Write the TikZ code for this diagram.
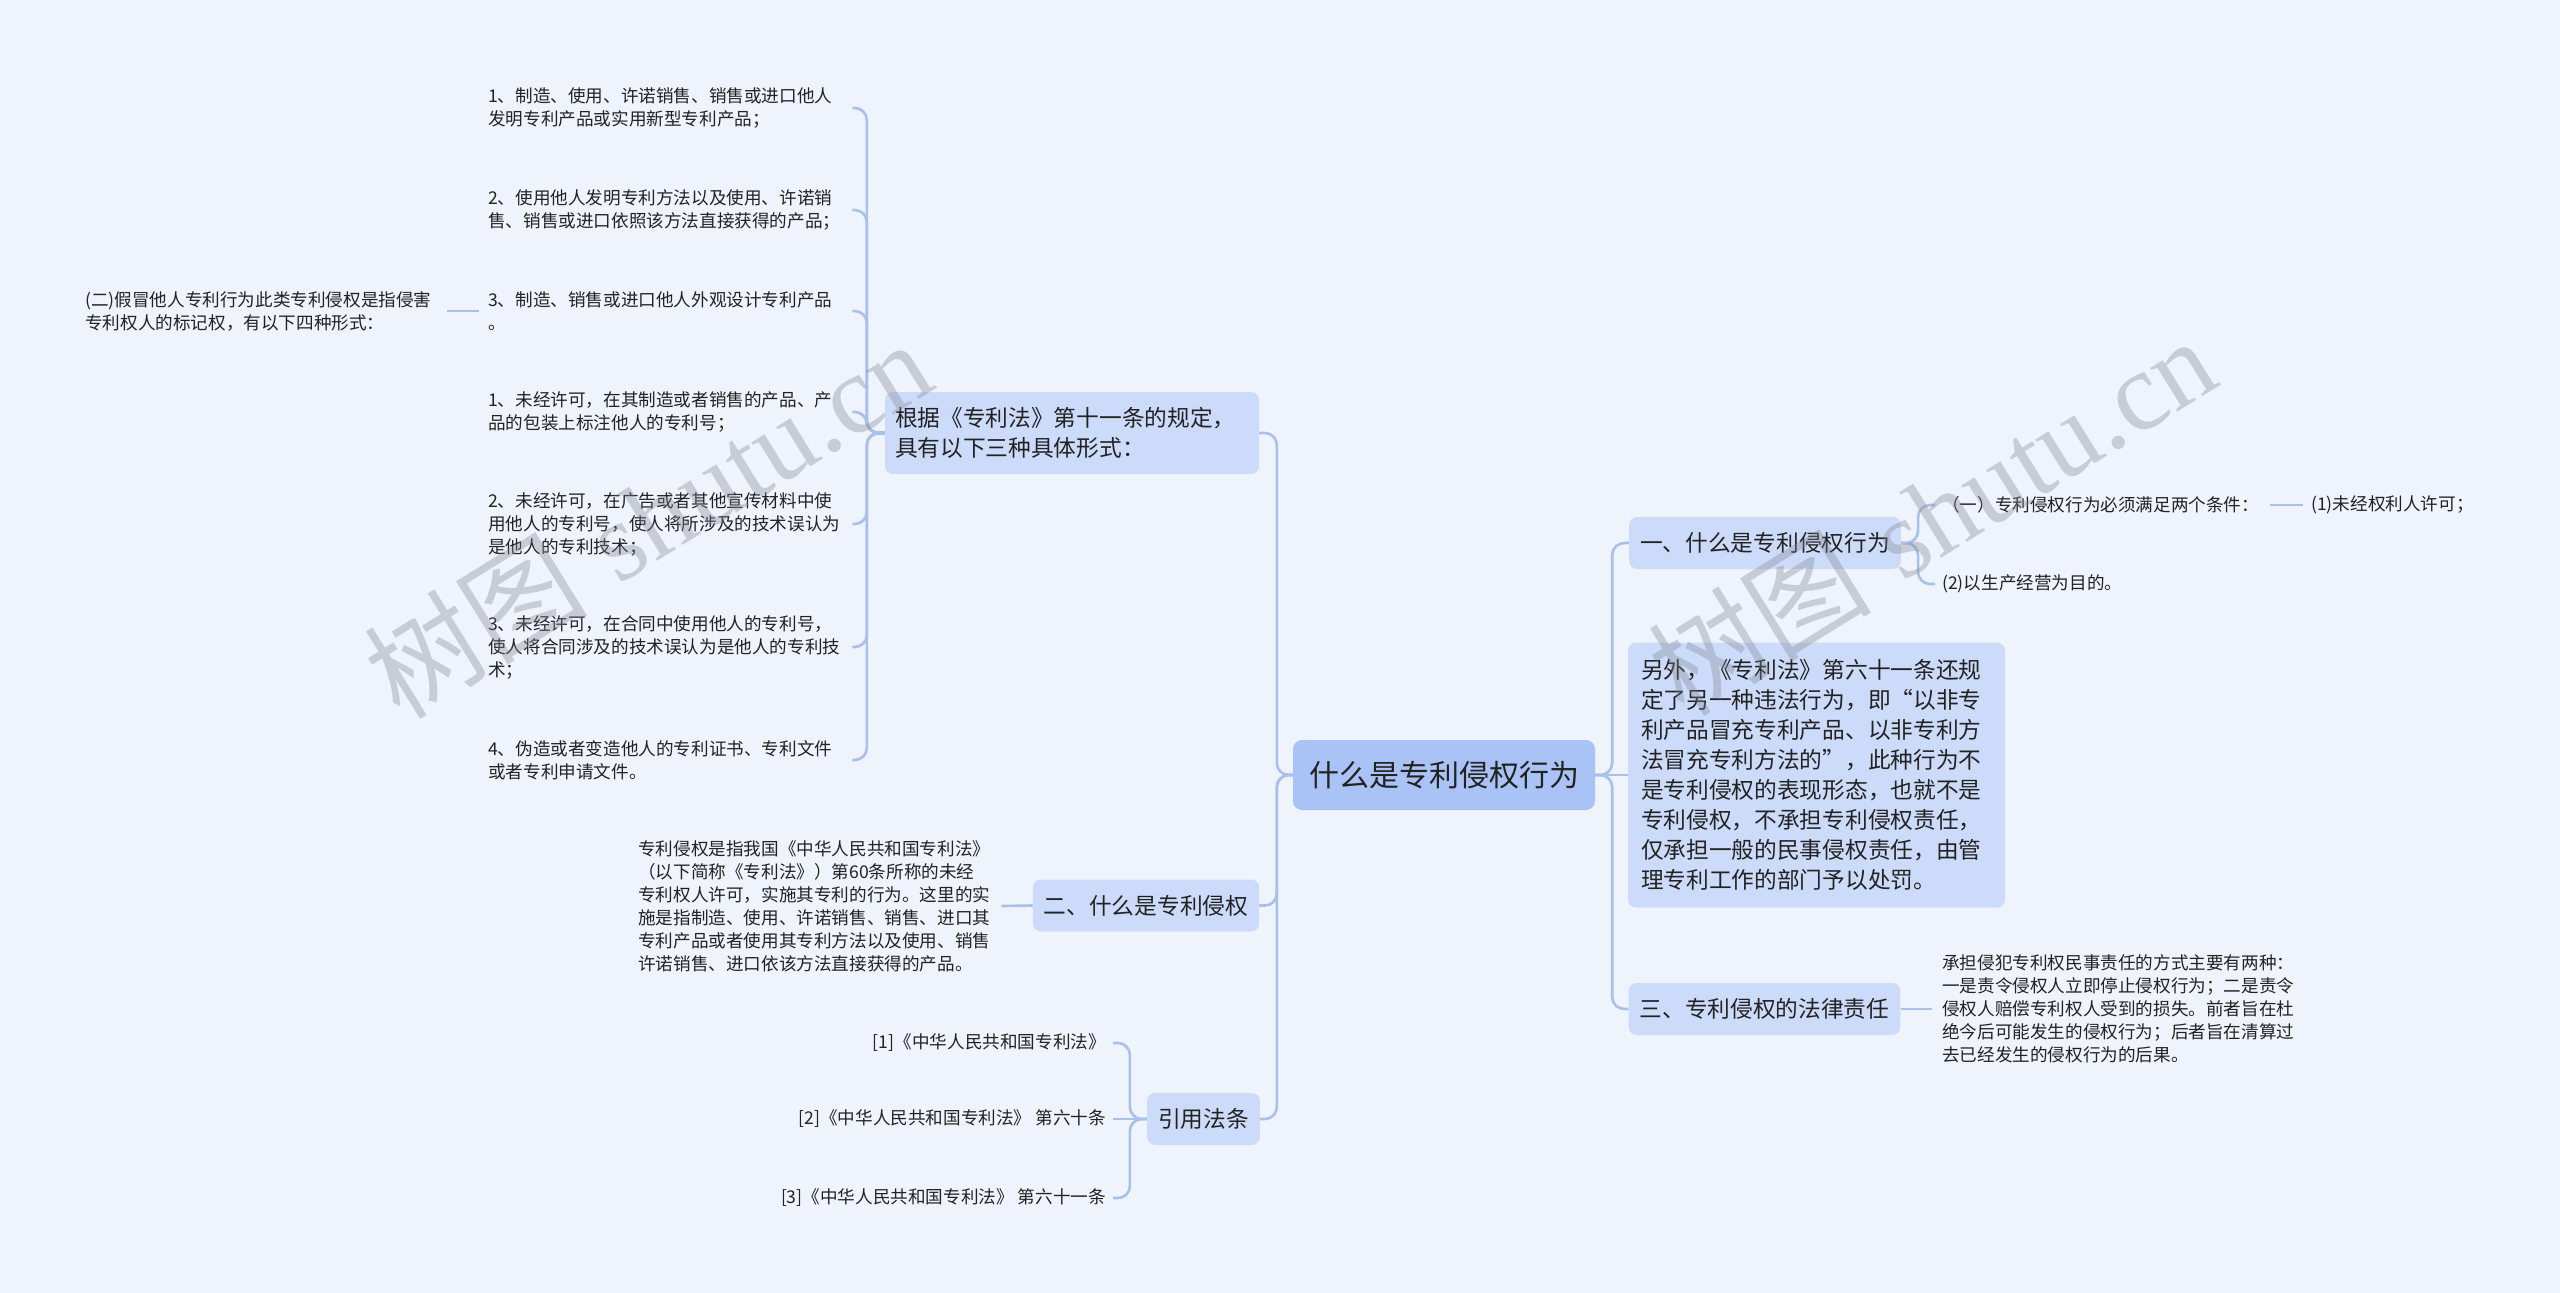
\documentclass[tikz,border=0pt]{standalone}
\usepackage{fontspec}
\newfontfamily\cjk{Noto Sans CJK SC}
\newfontfamily\wmlatin{Liberation Serif}
\definecolor{bg}{RGB}{238,243,252}
\definecolor{ln}{RGB}{168,192,234}
\definecolor{lvone}{RGB}{204,219,250}
\definecolor{ctr}{RGB}{170,195,246}
\definecolor{txt}{RGB}{34,34,34}
\definecolor{wm}{RGB}{128,133,145}
\tikzset{
  conn/.style={draw=ln, line width=2.6pt, rounded corners=12pt},
  leaf/.style={inner sep=0pt, text=txt, font=\cjk\fontsize{17.6}{23}\selectfont, align=left},
  leafw/.style={leaf, text width=352pt},
  lonebox/.style={fill=lvone, rounded corners=8pt, inner xsep=11pt, inner ysep=0pt, minimum height=52pt, text=txt, font=\cjk\fontsize{22.7}{30}\selectfont},
  ctrbox/.style={fill=ctr, rounded corners=9pt, minimum width=302pt, minimum height=70pt, inner sep=0pt, text=txt, font=\cjk\fontsize{30}{36}\selectfont},
  wmark/.style={text=wm, opacity=0.35, rotate=31.8, inner sep=0pt, font=\fontsize{112}{120}\selectfont}
}
\begin{document}
\begin{tikzpicture}[x=1pt,y=-1pt]
\fill[bg] (0,0) rectangle (2560,1293);
\useasboundingbox (0,0) rectangle (2560,1293);

% center
\node[ctrbox] (C) at (1444,775) {什么是专利侵权行为};

% left level 1
\node[lonebox, text width=354pt, align=left, minimum height=82pt, inner xsep=10pt] (gj) at (1072,433) {根据《专利法》第十一条的规定，\\具有以下三种具体形式：};
\node[lonebox] (n2) at (1146,905.5) {二、什么是专利侵权};
\node[lonebox] (yy) at (1203.5,1119) {引用法条};

% right level 1
\node[lonebox] (n1) at (1765,543) {一、什么是专利侵权行为};
\node[lonebox, text width=351pt, align=left, inner xsep=13pt, minimum height=265pt] (yw) at (1816.5,775) {另外，《专利法》第六十一条还规\\定了另一种违法行为，即“以非专\\利产品冒充专利产品、以非专利方\\法冒充专利方法的”，此种行为不\\是专利侵权的表现形态，也就不是\\专利侵权，不承担专利侵权责任，\\仅承担一般的民事侵权责任，由管\\理专利工作的部门予以处罚。};
\node[lonebox] (n3) at (1764.5,1009) {三、专利侵权的法律责任};

% left leaves
\node[leafw, anchor=west] (t1) at (488,108) {1、制造、使用、许诺销售、销售或进口他人\\发明专利产品或实用新型专利产品；};
\node[leafw, anchor=west] (t2) at (488,210) {2、使用他人发明专利方法以及使用、许诺销\\售、销售或进口依照该方法直接获得的产品；};
\node[leafw, anchor=west] (t3) at (488,311) {3、制造、销售或进口他人外观设计专利产品\\。};
\node[leafw, anchor=west] (t4) at (488,412) {1、未经许可，在其制造或者销售的产品、产\\品的包装上标注他人的专利号；};
\node[leafw, anchor=west] (t5) at (488,524) {2、未经许可，在广告或者其他宣传材料中使\\用他人的专利号，使人将所涉及的技术误认为\\是他人的专利技术；};
\node[leafw, anchor=west] (t6) at (488,647) {3、未经许可，在合同中使用他人的专利号，\\使人将合同涉及的技术误认为是他人的专利技\\术；};
\node[leafw, anchor=west] (t7) at (488,760) {4、伪造或者变造他人的专利证书、专利文件\\或者专利申请文件。};
\node[leafw, anchor=west] (jm) at (85,311) {(二)假冒他人专利行为此类专利侵权是指侵害\\专利权人的标记权，有以下四种形式：};

\node[leafw, anchor=west] (d2) at (638,906) {专利侵权是指我国《中华人民共和国专利法》\\（以下简称《专利法》）第60条所称的未经\\专利权人许可，实施其专利的行为。这里的实\\施是指制造、使用、许诺销售、销售、进口其\\专利产品或者使用其专利方法以及使用、销售\\许诺销售、进口依该方法直接获得的产品。};

\node[leaf, anchor=east] (r1) at (1106,1043) {[1]《中华人民共和国专利法》};
\node[leaf, anchor=east] (r2) at (1106,1119) {[2]《中华人民共和国专利法》 第六十条};
\node[leaf, anchor=east] (r3) at (1106,1198) {[3]《中华人民共和国专利法》 第六十一条};

% right leaves
\node[leaf, anchor=west] (c1) at (1942,505) {（一）专利侵权行为必须满足两个条件：};
\node[leaf, anchor=west] (c11) at (2311,505) {(1)未经权利人许可；};
\node[leaf, anchor=west] (c2) at (1942,584) {(2)以生产经营为目的。};
\node[leaf, anchor=west] (d3) at (1942,1009) {承担侵犯专利权民事责任的方式主要有两种：\\一是责令侵权人立即停止侵权行为；二是责令\\侵权人赔偿专利权人受到的损失。前者旨在杜\\绝今后可能发生的侵权行为；后者旨在清算过\\去已经发生的侵权行为的后果。};

% connectors: center
\draw[conn] (C.west) -- ++(-16,0) |- (gj.east);
\draw[conn] (C.west) -- ++(-16,0) |- (n2.east);
\draw[conn] (C.west) -- ++(-16,0) |- (yy.east);
\draw[conn] (C.east) -- ++(17,0) |- (n1.west);
\draw[conn] (C.east) -- (yw.west);
\draw[conn] (C.east) -- ++(17,0) |- (n3.west);

% gj children
\foreach \t in {t1,t2,t3,t4,t5,t6,t7}
  \draw[conn] (gj.west) -- ++(-18,0) |- ([xshift=12pt]\t.east);
\draw[conn] ([xshift=10pt]jm.east) -- ([xshift=-9pt]t3.west);

% n2 child
\draw[conn] (n2.west) -- ([xshift=11pt]d2.east);

% yy children
\draw[conn] (yy.west) -- ++(-17,0) |- ([xshift=7pt]r1.east);
\draw[conn] (yy.west) -- ([xshift=7pt]r2.east);
\draw[conn] (yy.west) -- ++(-17,0) |- ([xshift=7pt]r3.east);

% right children
\draw[conn] (n1.east) -- ++(17,0) |- ([xshift=-7pt]c1.west);
\draw[conn] (n1.east) -- ++(17,0) |- ([xshift=-7pt]c2.west);
\draw[conn] ([xshift=11pt]c1.east) -- ([xshift=-8pt]c11.west);
\draw[conn] (n3.east) -- ([xshift=-10pt]d3.west);

% watermarks
\node[wmark] (wma) at (647,518) {\cjk 树图\hspace{0.3em}\wmlatin shutu.cn};
\node[wmark] (wmb) at (1931,515) {\cjk 树图\hspace{0.3em}\wmlatin shutu.cn};
\end{tikzpicture}
\end{document}
